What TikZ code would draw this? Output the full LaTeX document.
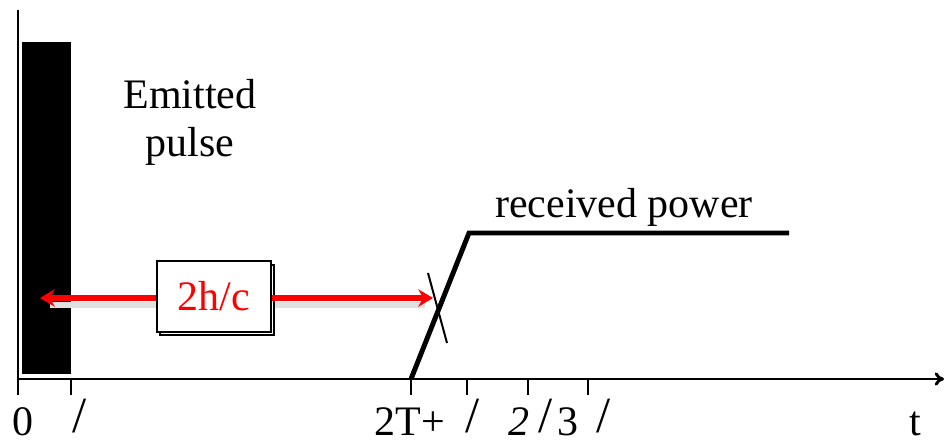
\documentclass[tikz,border=0pt]{standalone}
\usepackage{fontspec}
\setmainfont{Liberation Serif}
\newfontfamily\tnr{Liberation Serif}
\usetikzlibrary{arrows.meta,calc,shadows}
\tikzset{
  >={Stealth[length=11pt,width=13pt]},
  ax/.style={line width=2.2pt},
  tk/.style={line width=1.8pt},
  pw/.style={line width=3.7pt,line join=miter},
  dly/.style={red,line width=4.5pt},
  txt/.style={inner sep=0pt,font=\tnr\fontsize{31.5}{36}\selectfont},
  lbl/.style={txt,anchor=base},
  sl/.style={lbl,font=\tnr\fontsize{38}{40}\selectfont},
  dbox/.style={draw,line width=1.5pt,fill=white,minimum width=85.5pt,minimum height=53pt,
    inner sep=0pt,font=\tnr\fontsize{31.5}{36}\selectfont,text=red,
    copy shadow={shadow xshift=2.6pt,shadow yshift=-2.6pt}},
}
\begin{document}
\begin{tikzpicture}[x=0.75pt,y=-0.75pt]
\useasboundingbox (0,0) rectangle (944,444);
% axes
\coordinate (ytop) at (18,10); \coordinate (o) at (18,379); \coordinate (xend) at (944,379);
\draw[ax,-{To[length=7pt,width=10pt]}] (ytop) -- (o) -- (xend);
\foreach \x in {18,71,411,467,528,588} \draw[tk] (\x,379) -- (\x,395);
\foreach \x/\t in {23/0,410/2T+,519/{\itshape 2},568/3,915/t}
  \node[lbl] (l\x) at (\x,435) {\t};
\foreach \x in {80,473,546,604} \node[sl] (s\x) at (\x,432) {/};
% emitted pulse
\node[fill=black,inner sep=0pt,minimum width=36.75pt,minimum height=249pt] (pulse) at (46.5,208) {};
\node[txt,align=center] (emit) at (190,122) {Emitted\\pulse};
% received power
\coordinate (r0) at (411,379); \coordinate (r1) at (469,233); \coordinate (r2) at (789,233);
\draw[pw] (r0) -- (r1) -- (r2);
\node[lbl] (recv) at (624,217) {received power};
\coordinate (c0) at (428,273); \coordinate (c1) at (447,343);
\draw[line width=1.5pt] (c0) -- (c1);
% delay 2h/c
\coordinate (dl) at (40,298); \coordinate (dr) at (433,298);
\draw[black!12,line width=4pt] ($(dl)+(10,7)$) -- ($(dr)+(-8,7)$);
\node[dbox] (delay) at (214,296.5) {2h/c};
\draw[dly,->] (delay.west|-dl) -- (dl);
\draw[dly,->] (delay.east|-dr) -- (dr);
\end{tikzpicture}
\end{document}
